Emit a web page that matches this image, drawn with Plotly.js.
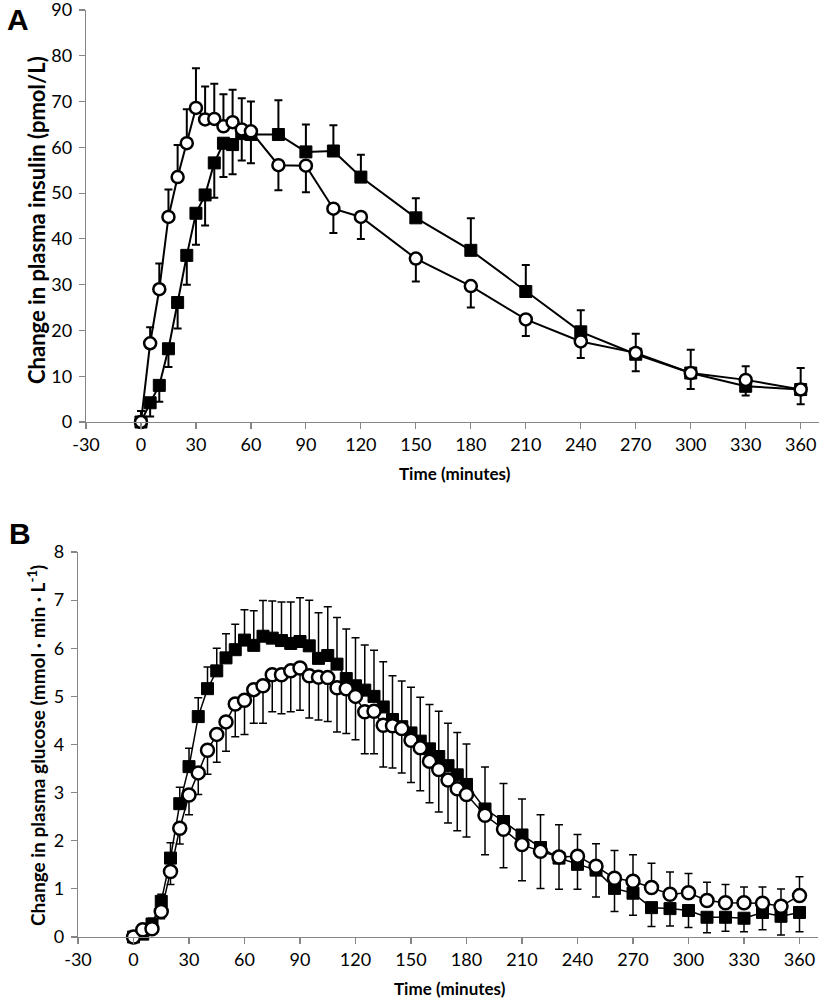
<!DOCTYPE html>
<html>
<head>
<meta charset="utf-8">
<script src="https://cdn.plot.ly/plotly-3.0.1.min.js"></script>
<style>html,body{margin:0;padding:0;background:#fff;}#chart{width:822px;height:999px;}</style>
</head>
<body>
<div id="chart"></div>
<script>
// ---- Panel A: insulin ----
var timeA = [0,5,10,15,20,25,30,35,40,45,50,55,60,75,90,105,120,150,180,210,240,270,300,330,360];
var insulinSquare = [0,4.2,8.0,16.0,26.1,36.4,45.6,49.6,56.6,60.9,60.6,63.0,62.8,62.8,59.0,59.2,53.5,44.6,37.5,28.5,19.7,14.8,10.7,7.8,7.1];
var insulinCircle = [0,17.2,29.0,44.8,53.5,60.9,68.6,66.1,66.2,64.6,65.5,63.9,63.5,56.1,56.0,46.6,44.8,35.7,29.7,22.4,17.6,15.1,10.7,9.2,7.1];
var insulinSquarePlus  = [0,0,0,0,0,0,0,0,0,0,0,0,0,7.5,6.0,5.6,4.9,4.3,7.0,5.8,4.7,0,0,0,0];
var insulinSquareMinus = [0,3.0,3.6,4.0,5.7,6.4,6.9,6.7,7.6,7.4,6.5,5.9,6.3,0,0,0,0,0,0,0,0,3.7,3.5,2.0,3.2];
var insulinCirclePlus  = [2.4,3.5,5.6,6.0,7.0,7.4,8.7,7.2,7.7,7.0,7.1,6.8,6.5,0,0,0,0,0,0,0,0,4.2,5.1,3.0,4.7];
var insulinCircleMinus = [0,0,0,0,0,0,0,0,0,0,0,0,0,5.5,5.8,5.3,4.8,5.0,4.7,3.6,3.6,0,0,0,0];

// ---- Panel B: glucose ----
var timeB = [0,5,10,15,20,25,30,35,40,45,50,55,60,65,70,75,80,85,90,95,100,105,110,115,120,125,130,135,140,145,150,155,160,165,170,175,180,
             190,200,210,220,230,240,250,260,270,280,290,300,310,320,330,340,350,360];
var glucoseSquare = [0,0.06,0.27,0.74,1.64,2.77,3.54,4.58,5.16,5.53,5.80,5.97,6.17,6.06,6.25,6.21,6.16,6.10,6.14,6.05,5.79,5.85,5.67,5.37,5.22,5.13,5.00,4.78,4.52,4.37,4.24,4.07,3.91,3.75,3.56,3.37,3.17,
                     2.66,2.40,2.12,1.86,1.64,1.51,1.39,1.01,0.91,0.61,0.59,0.55,0.41,0.41,0.39,0.51,0.43,0.51];
var glucoseCircle = [0,0.15,0.17,0.53,1.36,2.26,2.95,3.41,3.88,4.21,4.47,4.84,4.92,5.14,5.22,5.45,5.45,5.53,5.59,5.43,5.40,5.39,5.18,5.16,5.00,4.68,4.69,4.40,4.39,4.33,4.09,3.93,3.65,3.48,3.26,3.08,2.96,
                     2.53,2.24,1.92,1.78,1.66,1.68,1.47,1.22,1.16,1.03,0.89,0.92,0.76,0.71,0.71,0.70,0.64,0.86];
var glucoseSquarePlus = [0,0.05,0.12,0.15,0.32,0.34,0.38,0.39,0.45,0.47,0.50,0.53,0.63,0.72,0.74,0.77,0.80,0.86,0.91,0.95,0.95,1.01,0.97,1.03,1.00,0.94,0.96,0.94,0.91,0.95,0.95,0.91,0.92,0.94,0.88,0.88,0.84,
                         0.87,0.79,0.75,0.68,0,0,0,0,0,0,0,0,0,0,0,0,0,0];
var glucoseSquareMinus = [0,0,0,0,0,0,0,0,0,0,0,0,0,0,0,0,0,0,0,0,0,0,0,0,0,0,0,0,0,0,0,0,0,0,0,0,0,
                          0,0,0,0,0.65,0.52,0.56,0.48,0.46,0.39,0.36,0.35,0.32,0.29,0.28,0.36,0.39,0.40];
var glucoseCirclePlus = [0,0,0,0,0,0,0,0,0,0,0,0,0,0,0,0,0,0,0,0,0,0,0,0,0,0,0,0,0,0,0,0,0,0,0,0,0,
                         0,0,0,0,0.67,0.45,0.47,0.58,0.55,0.50,0.46,0.40,0.38,0.38,0.33,0.34,0.36,0.39];
var glucoseCircleMinus = [0,0,0.10,0.15,0.27,0.33,0.41,0.45,0.50,0.58,0.61,0.68,0.71,0.70,0.78,0.77,0.81,0.85,0.88,0.88,0.89,0.91,0.92,0.93,0.90,0.87,0.88,0.87,0.88,0.92,0.88,0.89,0.86,0.88,0.89,0.87,0.88,
                          0.82,0.80,0.75,0.77,0,0,0,0,0,0,0,0,0,0,0,0,0,0];

var xTicks = [-30,0,30,60,90,120,150,180,210,240,270,300,330,360];
var xTickLabels = ['-30','0','30','60','90','120','150','180','210','240','270','300','330','360'];
var yTicksA = [0,10,20,30,40,50,60,70,80,90];
var yTicksB = [0,1,2,3,4,5,6,7,8];

var FONT = 'Lato, "Open Sans", sans-serif';
var W = 822, H = 999;

function errBar(plus, minus, thick) {
  return {type: 'data', symmetric: false, array: plus, arrayminus: minus,
          color: '#000', thickness: thick, width: 4};
}

var traces = [
  {x: timeA, y: insulinSquare, xaxis: 'x', yaxis: 'y', mode: 'lines+markers', type: 'scatter', cliponaxis: false,
   line: {color: '#000', width: 2},
   marker: {symbol: 'square', size: 12, color: '#000', line: {color: '#000', width: 1}},
   error_y: errBar(insulinSquarePlus, insulinSquareMinus, 2)},
  {x: timeA, y: insulinCircle, xaxis: 'x', yaxis: 'y', mode: 'lines+markers', type: 'scatter', cliponaxis: false,
   line: {color: '#000', width: 2},
   marker: {symbol: 'circle', size: 12, color: '#fff', line: {color: '#000', width: 2.5}},
   error_y: errBar(insulinCirclePlus, insulinCircleMinus, 2)},
  {x: timeB, y: glucoseSquare, xaxis: 'x2', yaxis: 'y2', mode: 'lines+markers', type: 'scatter', cliponaxis: false,
   line: {color: '#000', width: 1.5},
   marker: {symbol: 'square', size: 12, color: '#000', line: {color: '#000', width: 1}},
   error_y: errBar(glucoseSquarePlus, glucoseSquareMinus, 1.5)},
  {x: timeB, y: glucoseCircle, xaxis: 'x2', yaxis: 'y2', mode: 'lines+markers', type: 'scatter', cliponaxis: false,
   line: {color: '#000', width: 1.5},
   marker: {symbol: 'circle', size: 13, color: '#fff', line: {color: '#000', width: 2.5}},
   error_y: errBar(glucoseCirclePlus, glucoseCircleMinus, 1.5)}
];

function xAxis(domain, anchor) {
  return {domain: domain, anchor: anchor, range: [-30, 370], tickmode: 'array', tickvals: xTicks, ticktext: xTickLabels,
          showgrid: false, zeroline: false, showline: true, linecolor: '#868686', linewidth: 1.2,
          ticks: 'outside', ticklen: 6, tickcolor: '#868686', tickwidth: 1.2, ticklabeloverflow: 'allow',
          tickfont: {family: FONT, size: 18, color: '#000'}, fixedrange: true};
}
function yAxis(domain, anchor, range, ticks) {
  return {domain: domain, anchor: anchor, range: range, tickmode: 'array', tickvals: ticks,
          showgrid: false, zeroline: false, showline: true, linecolor: '#868686', linewidth: 1.2,
          ticks: 'outside', ticklen: 6, tickcolor: '#868686', tickwidth: 1.2, ticklabelstandoff: 3,
          ticklabeloverflow: 'allow',
          tickfont: {family: FONT, size: 18, color: '#000'}, fixedrange: true};
}

function ann(text, px, py, size, angle, family) {
  return {text: text, xref: 'paper', yref: 'paper', x: px / W, y: 1 - py / H,
          xanchor: 'center', yanchor: 'middle', showarrow: false, textangle: angle || 0,
          font: {family: family || FONT, size: size, color: '#000'}};
}

var layout = {
  width: W, height: H,
  margin: {l: 0, r: 0, t: 0, b: 0},
  paper_bgcolor: '#fff', plot_bgcolor: '#fff',
  showlegend: false,
  font: {family: FONT, color: '#000'},
  xaxis: xAxis([86 / W, 819 / W], 'y'),
  yaxis: yAxis([1 - 422 / H, 1 - 10 / H], 'x', [0, 90], yTicksA),
  xaxis2: xAxis([78 / W, 818 / W], 'y2'),
  yaxis2: yAxis([1 - 937 / H, 1 - 552 / H], 'x2', [0, 8], yTicksB),
  annotations: [
    ann('<b>A</b>', 18, 19, 30, 0, 'Liberation Sans, Arial, sans-serif'),
    ann('<b>B</b>', 20, 533, 30, 0, 'Liberation Sans, Arial, sans-serif'),
    ann('<b>Change in plasma insulin (pmol/L)</b>', 36, 220, 22, -90),
    ann('<b>Change in plasma glucose (mmol · min · L<sup>-1</sup>)</b>', 36, 746, 19, -90),
    ann('<b>Time (minutes)</b>', 455, 474, 17, 0),
    ann('<b>Time (minutes)</b>', 450, 988, 17, 0)
  ]
};

Plotly.newPlot('chart', traces, layout, {displayModeBar: false, staticPlot: true});
</script>
</body>
</html>
